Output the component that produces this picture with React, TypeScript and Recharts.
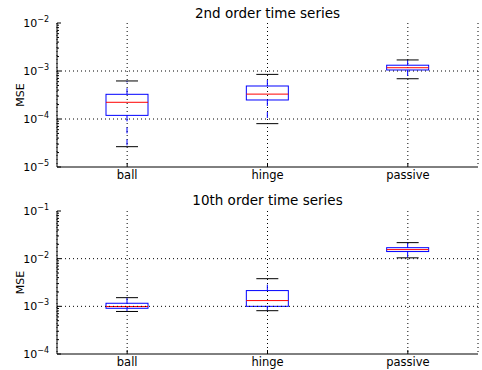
import React from 'react';
import { ComposedChart, Bar, XAxis, YAxis, CartesianGrid, ReferenceLine } from 'recharts';

const categories = ['ball', 'hinge', 'passive'];

// 2nd order time series (MSE)
const order2Min = [2.65e-5, 8.0e-5, 6.9e-4];
const order2Q1 = [1.19e-4, 2.49e-4, 1.05e-3];
const order2Median = [2.23e-4, 3.3e-4, 1.17e-3];
const order2Q3 = [3.27e-4, 4.87e-4, 1.32e-3];
const order2Max = [6.2e-4, 8.5e-4, 1.7e-3];

// 10th order time series (MSE)
const order10Min = [7.8e-4, 8.1e-4, 1.04e-2];
const order10Q1 = [9.1e-4, 1.0e-3, 1.41e-2];
const order10Median = [9.9e-4, 1.32e-3, 1.55e-2];
const order10Q3 = [1.16e-3, 2.14e-3, 1.7e-2];
const order10Max = [1.52e-3, 3.8e-3, 2.17e-2];

const order2Majors = [1e-5, 1e-4, 1e-3, 1e-2];
const order10Majors = [1e-4, 1e-3, 1e-2, 1e-1];
const minorMultipliers = [2, 3, 4, 5, 6, 7, 8, 9];

const FONT = '"DejaVu Sans", sans-serif';

function buildRows(min: number[], q1: number[], med: number[], q3: number[], max: number[]) {
  return categories.map((c, i) => ({
    cat: c,
    box: [q1[i], q3[i]],
    lo: [min[i], q1[i]],
    hi: [q3[i], max[i]],
    med: [q1[i], med[i]],
  }));
}

function allTicks(majors: number[]) {
  const t = [...majors];
  for (let i = 0; i < majors.length - 1; i++) {
    for (const m of minorMultipliers) t.push(majors[i] * m);
  }
  return t.sort((a, b) => a - b);
}

function isMajor(v: number, majors: number[]) {
  return majors.some((m) => Math.abs(v / m - 1) < 1e-6);
}

const makeLeftTick = (majors: number[]) => (props: any) => {
  const { x, y, payload } = props;
  const v = payload.value;
  const major = isMajor(v, majors);
  const e = Math.round(Math.log10(v));
  return (
    <g>
      <line x1={x} x2={x + (major ? 4 : 2)} y1={y} y2={y} stroke="#000" strokeWidth={1} />
      {major && (
        <text x={x - 8} y={y + 4} textAnchor="end" fontSize={11} fill="#000" fontFamily={FONT}>
          10
          <tspan dy={-5} fontSize={8}>{(e < 0 ? '\u2212' : '') + Math.abs(e)}</tspan>
        </text>
      )}
    </g>
  );
};

const makeRightTick = (majors: number[]) => (props: any) => {
  const { x, y, payload } = props;
  const major = isMajor(payload.value, majors);
  return <line x1={x} x2={x - (major ? 4 : 2)} y1={y} y2={y} stroke="#000" strokeWidth={1} />;
};

const BottomTick = (props: any) => {
  const { x, y, payload } = props;
  return (
    <g>
      <line x1={x} x2={x} y1={y} y2={y - 4} stroke="#000" strokeWidth={1} />
      <text x={x} y={y + 12} textAnchor="middle" fontSize={11.5} fill="#000" fontFamily={FONT}>
        {payload.value}
      </text>
    </g>
  );
};

const TopTick = (props: any) => {
  const { x, y } = props;
  return <line x1={x} x2={x} y1={y} y2={y + 4} stroke="#000" strokeWidth={1} />;
};

const BoxShape = (props: any) => {
  const { x, y, width, height } = props;
  const top = Math.min(y, y + height);
  const h = Math.abs(height);
  return <rect x={x} y={top} width={width} height={h} fill="none" stroke="#0000ff" strokeWidth={1} />;
};

const MedianShape = (props: any) => {
  const { x, y, width, height } = props;
  const top = Math.min(y, y + height);
  return <line x1={x} x2={x + width} y1={top} y2={top} stroke="#ff0000" strokeWidth={1} />;
};

const LowWhiskerShape = (props: any) => {
  const { x, y, width, height } = props;
  const top = Math.min(y, y + height);
  const bottom = Math.max(y, y + height);
  const cx = x + width / 2;
  return (
    <g>
      <line x1={cx} x2={cx} y1={top} y2={bottom} stroke="#0000ff" strokeWidth={1} strokeDasharray="6 6" />
      <line x1={x} x2={x + width} y1={bottom} y2={bottom} stroke="#000" strokeWidth={1} />
    </g>
  );
};

const HighWhiskerShape = (props: any) => {
  const { x, y, width, height } = props;
  const top = Math.min(y, y + height);
  const bottom = Math.max(y, y + height);
  const cx = x + width / 2;
  return (
    <g>
      <line x1={cx} x2={cx} y1={bottom} y2={top} stroke="#0000ff" strokeWidth={1} strokeDasharray="6 6" />
      <line x1={x} x2={x + width} y1={top} y2={top} stroke="#000" strokeWidth={1} />
    </g>
  );
};

const MseLabel = (props: any) => {
  const vb = props.viewBox || { x: 0, y: 0, width: 0, height: 0 };
  const cx = vb.x + 20;
  const cy = vb.y + vb.height / 2;
  return (
    <text x={cx} y={cy} transform={`rotate(-90, ${cx}, ${cy})`} textAnchor="middle" dominantBaseline="central" fontSize={11} fill="#000" fontFamily={FONT}>
      MSE
    </text>
  );
};

type PanelProps = {
  title: string;
  rows: any[];
  majors: number[];
  marginTop: number;
  xHeight: number;
  titleBaseline: number;
};

function Panel({ title, rows, majors, marginTop, xHeight, titleBaseline }: PanelProps) {
  const ticks = allTicks(majors);
  const domain = [majors[0], majors[majors.length - 1]];
  const inner = majors.slice(1, majors.length - 1);
  return (
    <div style={{ position: 'relative', width: 482, height: 185 }}>
      <ComposedChart
        width={482}
        height={185}
        data={rows}
        margin={{ top: marginTop, right: 4, bottom: 0, left: 0 }}
        style={{ fontFamily: FONT }}
      >
        <CartesianGrid xAxisId="x" yAxisId="y" horizontal={false} stroke="#000" strokeDasharray="1 3" />
        {inner.map((m) => (
          <ReferenceLine key={m} xAxisId="x" yAxisId="y" y={m} stroke="#000" strokeDasharray="1 3" />
        ))}
        <XAxis
          xAxisId="x"
          dataKey="cat"
          height={xHeight}
          tickSize={0}
          tickMargin={0}
          tickLine={false}
          axisLine={{ stroke: '#000' }}
          tick={BottomTick}
          interval={0}
        />
        <XAxis
          xAxisId="top"
          dataKey="cat"
          orientation="top"
          height={0}
          tickSize={0}
          tickMargin={0}
          tickLine={false}
          axisLine={{ stroke: '#000' }}
          tick={TopTick}
          interval={0}
        />
        <XAxis xAxisId="xm" dataKey="cat" hide />
        <XAxis xAxisId="xl" dataKey="cat" hide />
        <YAxis
          yAxisId="y"
          scale="log"
          domain={domain}
          allowDataOverflow
          ticks={ticks}
          interval={0}
          width={57}
          tickSize={0}
          tickMargin={0}
          tickLine={false}
          axisLine={{ stroke: '#000' }}
          tick={makeLeftTick(majors)}
          label={<MseLabel />}
        />
        <YAxis
          yAxisId="yr"
          orientation="right"
          scale="log"
          domain={domain}
          allowDataOverflow
          ticks={ticks}
          interval={0}
          width={0}
          tickSize={0}
          tickMargin={0}
          tickLine={false}
          axisLine={{ stroke: '#000' }}
          tick={makeRightTick(majors)}
        />
        <Bar xAxisId="xl" yAxisId="y" dataKey="lo" barSize={22} shape={LowWhiskerShape} isAnimationActive={false} />
        <Bar xAxisId="top" yAxisId="yr" dataKey="hi" barSize={22} shape={HighWhiskerShape} isAnimationActive={false} />
        <Bar xAxisId="x" yAxisId="y" dataKey="box" barSize={42} shape={BoxShape} isAnimationActive={false} />
        <Bar xAxisId="xm" yAxisId="y" dataKey="med" barSize={42} shape={MedianShape} isAnimationActive={false} />
      </ComposedChart>
      <div
        style={{
          position: 'absolute',
          left: 57,
          width: 421,
          top: titleBaseline - 15,
          textAlign: 'center',
          fontFamily: FONT,
          fontSize: 13.5,
          lineHeight: '18px',
          color: '#000',
          whiteSpace: 'nowrap',
        }}
      >
        {title}
      </div>
    </div>
  );
}

const order2Rows = buildRows(order2Min, order2Q1, order2Median, order2Q3, order2Max);
const order10Rows = buildRows(order10Min, order10Q1, order10Median, order10Q3, order10Max);

export default function App() {
  return (
    <div style={{ position: 'absolute', left: 0, top: 0, width: 482, height: 370, background: '#fff' }}>
      <Panel title="2nd order time series" rows={order2Rows} majors={order2Majors} marginTop={23} xHeight={18} titleBaseline={18.5} />
      <Panel title="10th order time series" rows={order10Rows} majors={order10Majors} marginTop={26} xHeight={16} titleBaseline={21} />
    </div>
  );
}
